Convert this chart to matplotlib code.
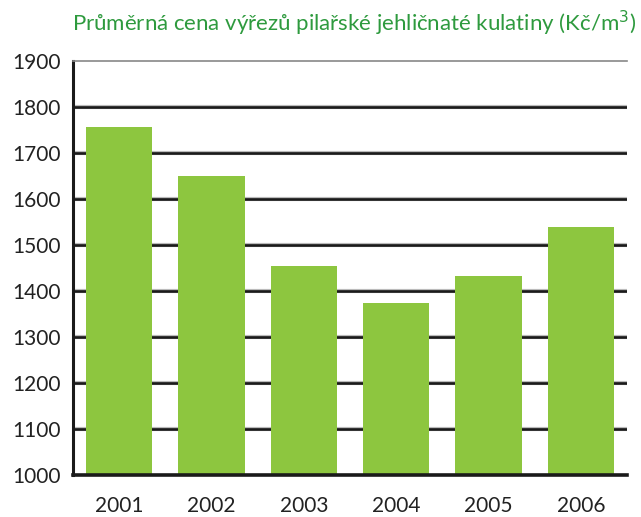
import matplotlib
matplotlib.use("Agg")
import matplotlib.pyplot as plt

years = ["2001", "2002", "2003", "2004", "2005", "2006"]
prices = [1757, 1650, 1454, 1374, 1433, 1539]
yticks = [1000, 1100, 1200, 1300, 1400, 1500, 1600, 1700, 1800, 1900]

plt.rcParams['font.family'] = ['Lato', 'DejaVu Sans']

fig = plt.figure(figsize=(6.41, 5.17), dpi=100)
ax = fig.add_axes([73/641, 1-475/517, 554/641, 414/517])

ax.bar(range(len(years)), prices, width=0.72, bottom=0, color="#8dc63f", zorder=3)
ax.set_xlim(-0.5, len(years) - 0.5)
ax.set_ylim(1000, 1900)
ax.set_yticks(yticks)
ax.set_yticklabels([str(v) for v in yticks], fontsize=15, color="#222222")
ax.set_xticks(range(len(years)))
ax.set_xticklabels(years, fontsize=15, color="#222222")
ax.tick_params(axis='y', length=0, pad=9)
ax.tick_params(axis='x', length=0, pad=15)
for v in yticks[1:-1]:
    ax.axhline(v, color="#bbbbbb", lw=3.0, zorder=1)
    ax.axhline(v, color="#1a1a1a", lw=1.9, zorder=2)
ax.spines['right'].set_visible(False)
ax.spines['top'].set_color("#888888")
ax.spines['top'].set_linewidth(1.2)
ax.spines['left'].set_color("#1a1a1a")
ax.spines['left'].set_linewidth(2.2)
ax.spines['bottom'].set_color("#1a1a1a")
ax.spines['bottom'].set_linewidth(2.6)
ax.spines['bottom'].set_zorder(4)

fig.text(636/641, 1-23/517, "Průměrná cena výřezů pilařské jehličnaté kulatiny (Kč/m$^3$)",
         ha="right", va="center", fontsize=16, color="#2e9a3e")

fig.savefig("out.png", dpi=100)
